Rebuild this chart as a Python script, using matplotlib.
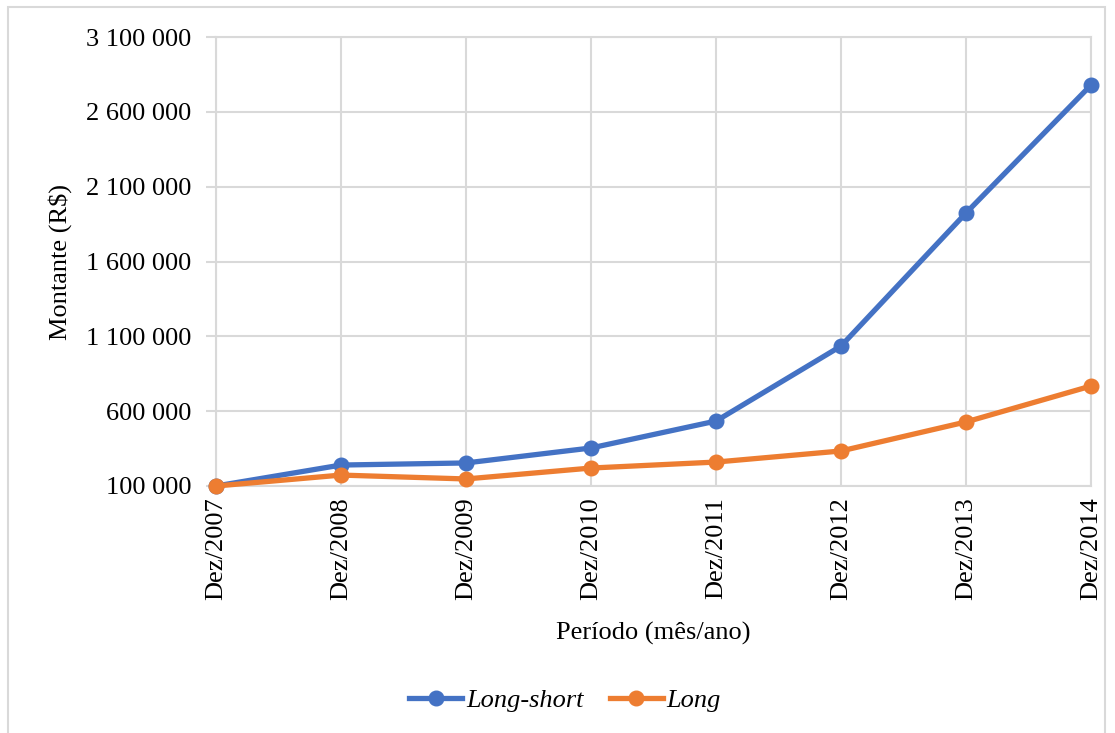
import matplotlib.pyplot as plt
from matplotlib.patches import Rectangle
from matplotlib.ticker import FuncFormatter

periods = ['Dez/2007', 'Dez/2008', 'Dez/2009', 'Dez/2010',
           'Dez/2011', 'Dez/2012', 'Dez/2013', 'Dez/2014']
long_short = [100000, 240000, 254000, 354000, 534000, 1035000, 1924000, 2779000]
long_only = [100000, 173000, 147000, 220000, 260000, 334000, 528000, 768000]
yticks = [100000, 600000, 1100000, 1600000, 2100000, 2600000, 3100000]

BLUE = '#4472C4'
ORANGE = '#ED7D31'
GRID = '#D9D9D9'

plt.rcParams['font.family'] = ['Liberation Serif', 'DejaVu Serif']

W, H = 1115, 733
fig = plt.figure(figsize=(W / 100, H / 100), dpi=100)
# chart frame
fig.patches.append(Rectangle((8 / W, -0.05), (1105 - 8) / W, 1 - 7 / H + 0.05,
                             transform=fig.transFigure, fill=False,
                             edgecolor=GRID, linewidth=1.5))

ax = fig.add_axes([216 / W, 1 - 486 / H, (1091 - 216) / W, (486 - 37) / H])
x = range(len(periods))
ax.plot(x, long_short, color=BLUE, lw=3.8, marker='o', ms=10.5,
        label='Long-short', zorder=3, clip_on=False)
ax.plot(x, long_only, color=ORANGE, lw=3.8, marker='o', ms=10.5,
        label='Long', zorder=4, clip_on=False)

ax.set_xlim(0, len(periods) - 1)
ax.set_ylim(100000, 3100000)
ax.set_yticks(yticks)
ax.yaxis.set_major_formatter(FuncFormatter(lambda v, p: f'{int(v):,}'.replace(',', ' ')))
ax.set_xticks(list(x))
ax.set_xticklabels(periods, rotation=90)

ax.grid(True, color=GRID, linewidth=1.5)
ax.set_axisbelow(True)
for s in ax.spines.values():
    s.set_color(GRID)
    s.set_linewidth(1.5)
ax.tick_params(axis='y', length=7, width=1.5, color=GRID, labelsize=19, pad=11)
ax.tick_params(axis='x', length=0, labelsize=19, pad=8)

ax.set_ylabel('Montante (R$)', fontsize=19, labelpad=10)
ax.set_xlabel('Período (mês/ano)', fontsize=19, labelpad=16)

leg = ax.legend(loc='center', bbox_to_anchor=(565 / W, 1 - 700 / H),
                bbox_transform=fig.transFigure, ncol=2, frameon=False,
                prop={'style': 'italic', 'size': 19}, handlelength=2.0,
                handletextpad=0.15, columnspacing=1.0)

fig.savefig('out.png', dpi=100)
